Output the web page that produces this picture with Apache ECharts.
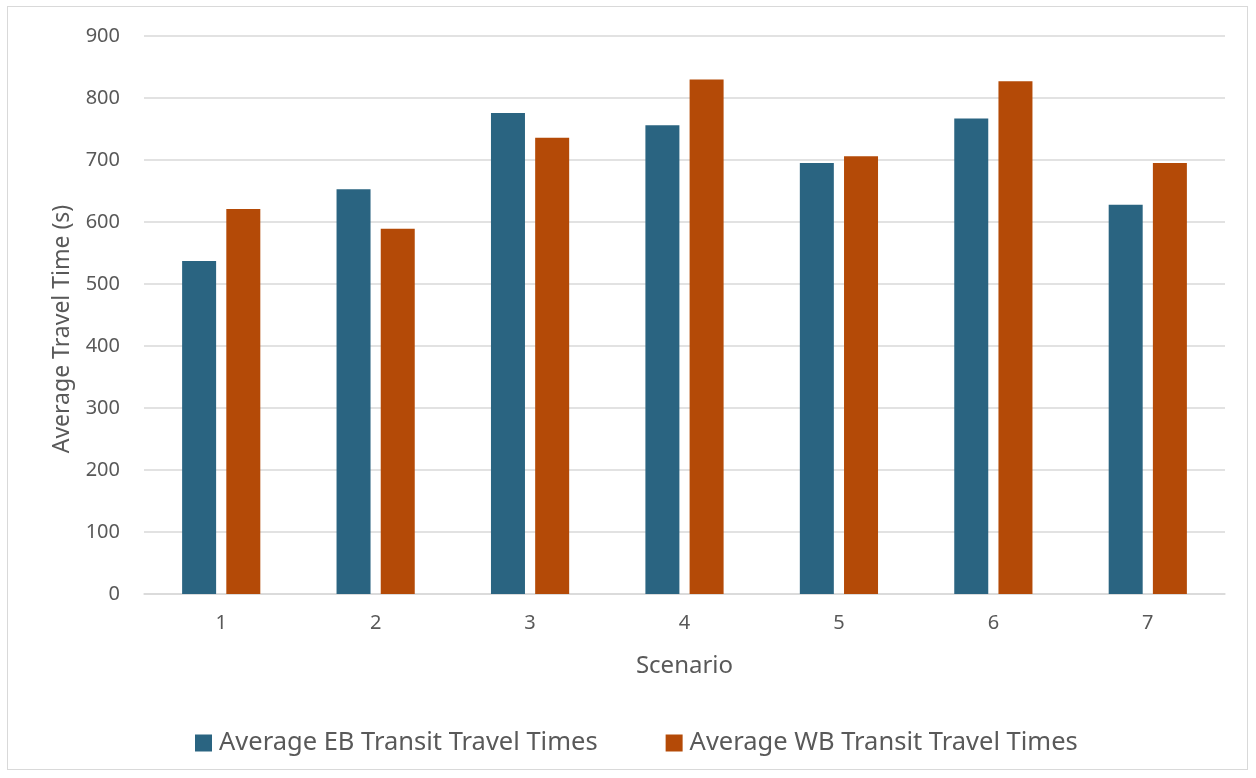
<!DOCTYPE html>
<html>
<head>
<meta charset="utf-8">
<script src="https://cdn.jsdelivr.net/npm/echarts@6/dist/echarts.min.js"></script>
<style>
  html, body { margin: 0; padding: 0; background: #fff; }
  #frame { position: absolute; left: 7px; top: 6px; width: 1241px; height: 764px; border: 1.5px solid #d9d9d9; box-sizing: border-box; }
  #chart { width: 1256px; height: 778px; }
</style>
</head>
<body>
<div id="frame"></div>
<div id="chart"></div>
<script>
// scenarios on the x axis
const scenarios = ['1', '2', '3', '4', '5', '6', '7'];
// average travel times (s)
const ebTimes = [537, 653, 776, 756, 695, 767, 628];
const wbTimes = [621, 589, 736, 830, 706, 827, 695];
const seriesNames = ['Average EB Transit Travel Times', 'Average WB Transit Travel Times'];

const myChart = echarts.init(document.getElementById('chart'));
const font = 'Noto Sans';
const option = {
  animation: false,
  textStyle: { fontFamily: font },
  grid: { left: 144, right: 31, top: 36, bottom: 184 },
  legend: {
    data: seriesNames,
    top: 725,
    left: 190,
    itemWidth: 17,
    itemHeight: 17,
    itemGap: 68,
    icon: 'rect',
    textStyle: { fontSize: 25.5, color: '#595959', fontFamily: font, padding: [0, 0, 0, 2] }
  },
  xAxis: {
    type: 'category',
    data: scenarios,
    name: 'Scenario',
    nameLocation: 'middle',
    nameGap: 60,
    nameTextStyle: { fontSize: 24, color: '#595959' },
    axisLine: { lineStyle: { color: '#d9d9d9', width: 1.5 } },
    axisTick: { show: false },
    axisLabel: { fontSize: 20, color: '#595959', margin: 19 }
  },
  yAxis: {
    type: 'value',
    min: 0,
    max: 900,
    interval: 100,
    name: 'Average Travel Time (s)',
    nameLocation: 'middle',
    nameGap: 70,
    nameTextStyle: { fontSize: 23, color: '#595959', padding: [0, 28, 0, 0] },
    axisLine: { show: false },
    axisTick: { show: false },
    axisLabel: { fontSize: 20, color: '#595959', margin: 24 },
    splitLine: { lineStyle: { color: '#d9d9d9', width: 1.5 } }
  },
  series: [
    {
      name: seriesNames[0],
      type: 'bar',
      data: ebTimes,
      barWidth: 34,
      barGap: '30%',
      itemStyle: { color: '#2a6481' }
    },
    {
      name: seriesNames[1],
      type: 'bar',
      data: wbTimes,
      barWidth: 34,
      itemStyle: { color: '#b44a07' }
    }
  ]
};
myChart.setOption(option);
</script>
</body>
</html>
